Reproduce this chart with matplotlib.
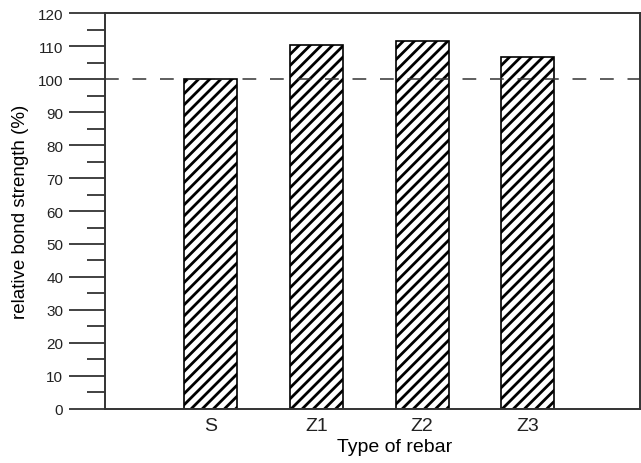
import matplotlib
matplotlib.use("Agg")
import matplotlib.pyplot as plt
from matplotlib.ticker import MultipleLocator

# Datos
tipos = ["S", "Z1", "Z2", "Z3"]
resistencia = [100.0, 110.4, 111.5, 106.8]
referencia = 100

plt.rcParams["font.family"] = ["Liberation Sans", "DejaVu Sans"]
plt.rcParams["hatch.linewidth"] = 2.0
plt.rcParams["hatch.color"] = "black"
plt.rcParams["text.color"] = "#222222"

fig = plt.figure(figsize=(6.41, 4.64), dpi=100)
ax = fig.add_axes([0.1638, 0.1164, 0.8346, 0.8534])

posiciones = list(range(len(tipos)))
ax.bar(posiciones, resistencia, width=0.5, color="white", edgecolor="black",
       linewidth=1.2, hatch="///", zorder=2)
ax.axhline(referencia, color="#333333", linestyle=(0, (9, 9)), linewidth=1.1, zorder=3)

ax.set_xlim(-1.0, 4.06)
ax.set_ylim(0, 120)
ax.yaxis.set_major_locator(MultipleLocator(10))
ax.yaxis.set_minor_locator(MultipleLocator(5))
ax.tick_params(axis="y", which="major", direction="out", length=26, width=1.3,
               color="#333333", labelsize=11, labelcolor="#222222", pad=4)
ax.tick_params(axis="y", which="minor", direction="out", length=13, width=1.3,
               color="#333333")
ax.set_xticks(posiciones)
ax.set_xticklabels(tipos)
ax.tick_params(axis="x", length=0, labelsize=14, labelcolor="#222222", pad=6)

for lado in ax.spines.values():
    lado.set_linewidth(1.4)
    lado.set_color("#333333")

ax.set_xlabel("Type of rebar", fontsize=14)
ax.xaxis.set_label_coords(0.542, -0.072)
ax.set_ylabel("relative bond strength (%)", fontsize=13.5, labelpad=6)

fig.savefig("out.png", dpi=100)
plt.close(fig)
